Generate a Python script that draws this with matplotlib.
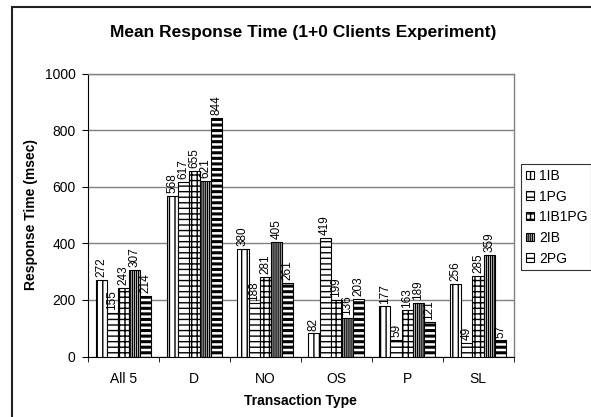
import matplotlib
matplotlib.use('Agg')
import matplotlib.pyplot as plt
from matplotlib.patches import Rectangle
import numpy as np

plt.rcParams['font.family'] = ['Liberation Sans', 'DejaVu Sans']

categories = ['All 5', 'D', 'NO', 'OS', 'P', 'SL']
series = ['1IB', '1PG', '1IB1PG', '2IB', '2PG']
v_1ib = [272, 568, 380, 82, 177, 256]
v_1pg = [155, 617, 188, 419, 59, 49]
v_1ib1pg = [243, 655, 281, 199, 163, 285]
v_2ib = [307, 621, 405, 136, 189, 359]
v_2pg = [214, 844, 261, 203, 121, 57]
values = [v_1ib, v_1pg, v_1ib1pg, v_2ib, v_2pg]

hatches = ['|||', '---', '+++', '||||||||', '---']

W, H = 591, 417
fig = plt.figure(figsize=(W / 100, H / 100), dpi=100)
ax = fig.add_axes([88 / W, (H - 356.5) / H, 425.5 / W, 282.8 / H])

# outer chart border, cut off at right and bottom
fig.patches.append(Rectangle((12 / W, -0.2), 1.2, (H - 7) / H + 0.2,
                             transform=fig.transFigure, fill=False,
                             edgecolor='#222222', linewidth=1.5))

x = np.arange(len(categories))
w = 0.157
for i, (name, vals) in enumerate(zip(series, values)):
    pos = x + (i - 2) * w
    bars = ax.bar(pos, vals, width=w, color='white', edgecolor='black',
                  linewidth=0.8, hatch=hatches[i], label=name, zorder=3)
    if name == '2PG':
        for b in bars:
            try:
                b.set_hatch_linewidth(2.2)
            except AttributeError:
                pass
    for p, v in zip(pos, vals):
        ax.annotate(str(v), (p, v), xytext=(0, 2), textcoords='offset points',
                    rotation=90, ha='center', va='bottom', fontsize=8.5,
                    zorder=4)

ax.set_xlim(-0.5, len(categories) - 0.5)
ax.set_ylim(0, 1000)
ax.set_yticks(range(0, 1001, 200))
ax.set_xticks(x)
ax.set_xticklabels(categories, fontsize=10)
ax.set_xticks(np.arange(-0.5, len(categories)), minor=True)
ax.tick_params(axis='x', which='major', length=0, pad=11)
ax.tick_params(axis='x', which='minor', length=3.5, direction='out')
ax.tick_params(axis='y', labelsize=10, length=4, direction='out', pad=5)
ax.yaxis.grid(True, color='#808080', linewidth=1, zorder=0)
for s in ['top', 'right']:
    ax.spines[s].set_color('#808080')
    ax.spines[s].set_linewidth(1)

fig.text(300.5 / W, (H - 401.5) / H, 'Transaction Type', ha='center',
         va='center', fontsize=10, fontweight='bold')
fig.text(31 / W, (H - 215) / H, 'Response Time (msec)', ha='center',
         va='center', rotation=90, fontsize=10, fontweight='bold')
fig.text(303 / W, (H - 32) / H, 'Mean Response Time (1+0 Clients Experiment)',
         ha='center', va='center', fontsize=12.5, fontweight='bold')

leg = fig.legend(loc='upper left', mode='expand',
                 bbox_to_anchor=(521 / W, (H - 265) / H, 70 / W, 101 / H),
                 fontsize=10, frameon=True, fancybox=False, edgecolor='black',
                 handlelength=0.55, handleheight=0.55, handletextpad=0.4,
                 labelspacing=0.48, borderpad=0.35, borderaxespad=0)
leg.get_frame().set_linewidth(0.8)

fig.savefig('out.png', dpi=100)
